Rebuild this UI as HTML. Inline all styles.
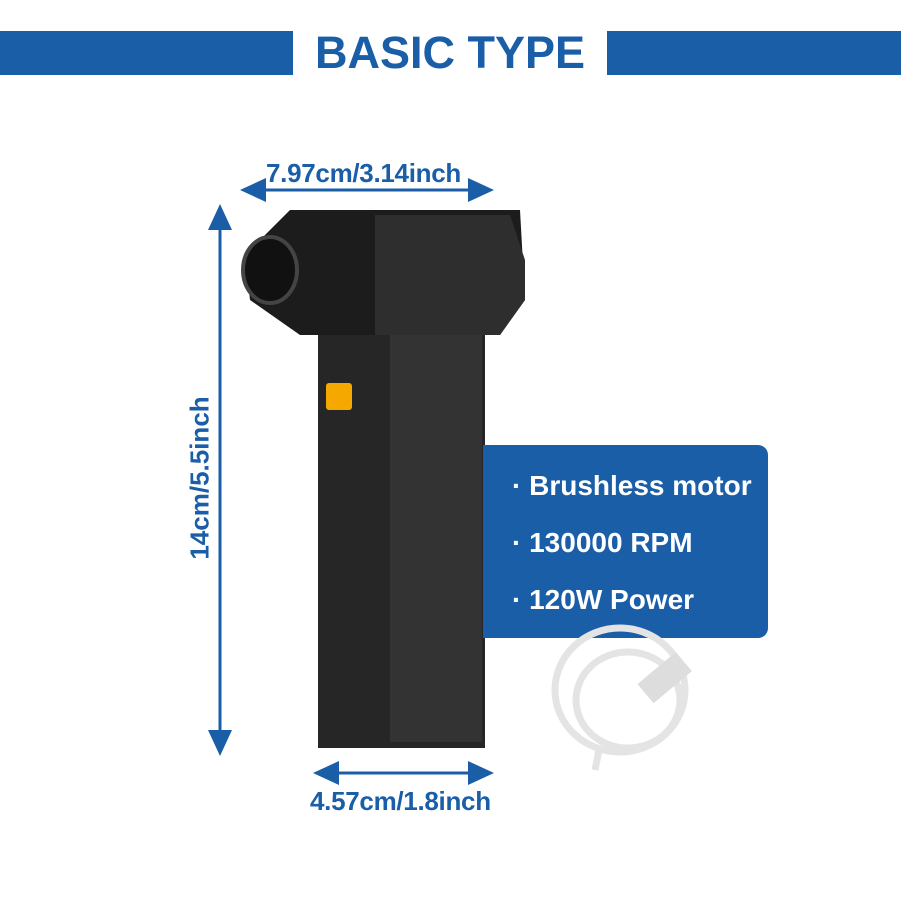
<!DOCTYPE html>
<html><head><style>
body{margin:0;width:901px;height:901px;background:#fff;overflow:hidden;position:relative;font-family:"Liberation Sans",sans-serif}
.t{position:absolute;color:#1a5ea8;font-weight:bold;white-space:nowrap}
</style></head><body>
<div style="position:absolute;left:0;top:31px;width:293px;height:44px;background:#1a5ea8"></div>
<div style="position:absolute;left:607px;top:31px;width:294px;height:44px;background:#1a5ea8"></div>
<div class="t" style="left:293px;width:314px;top:27px;text-align:center;font-size:45px">BASIC TYPE</div>
<div class="t" style="left:266px;top:158px;font-size:26px;letter-spacing:-0.3px">7.97cm/3.14inch</div>
<div class="t" style="left:310px;top:786px;font-size:26px;letter-spacing:-0.3px">4.57cm/1.8inch</div>
<div class="t" style="left:200px;top:478px;font-size:26px;transform:translate(-50%,-50%) rotate(-90deg)">14cm/5.5inch</div>
<svg width="901" height="901" style="position:absolute;left:0;top:0">
<g fill="#1a5ea8" stroke="#1a5ea8">
<line x1="262" y1="190" x2="470" y2="190" stroke-width="3"/>
<polygon points="240,190 266,178 266,202" stroke="none"/>
<polygon points="494,190 468,178 468,202" stroke="none"/>
<line x1="336" y1="773" x2="470" y2="773" stroke-width="3"/>
<polygon points="313,773 339,761 339,785" stroke="none"/>
<polygon points="494,773 468,761 468,785" stroke="none"/>
<line x1="220" y1="228" x2="220" y2="732" stroke-width="3"/>
<polygon points="220,204 208,230 232,230" stroke="none"/>
<polygon points="220,756 208,730 232,730" stroke="none"/>
</g>
<rect x="318" y="325" width="167" height="423" fill="#262626"/>
<rect x="390" y="330" width="92" height="412" fill="#333"/>
<polygon points="290,210 520,210 525,300 500,335 300,335 250,300 245,255" fill="#1c1c1c"/>
<polygon points="375,215 510,215 525,260 525,300 500,335 375,335" fill="#2e2e2e"/>
<ellipse cx="270" cy="270" rx="27" ry="33" fill="#111" stroke="#444" stroke-width="4"/>
<rect x="326" y="383" width="26" height="27" rx="3" fill="#f5a800"/>
<path d="M483 445 H758 a10 10 0 0 1 10 10 V628 a10 10 0 0 1 -10 10 H483 Z" fill="#1a5ea8"/>
<g fill="none" stroke="#e4e4e4" stroke-width="7">
<ellipse cx="620" cy="690" rx="65" ry="62"/>
<ellipse cx="628" cy="700" rx="52" ry="48"/>
<path d="M600 745 L595 770"/>
</g>
<rect x="640" y="665" width="50" height="25" fill="#ddd" transform="rotate(-40 665 678)"/>
</svg>
<div style="position:absolute;left:512px;top:457px;color:#fff;font-weight:bold;font-size:28px;line-height:57px;white-space:nowrap">
<div>· Brushless motor</div><div>· 130000 RPM</div><div>· 120W Power</div></div>
</body></html>
